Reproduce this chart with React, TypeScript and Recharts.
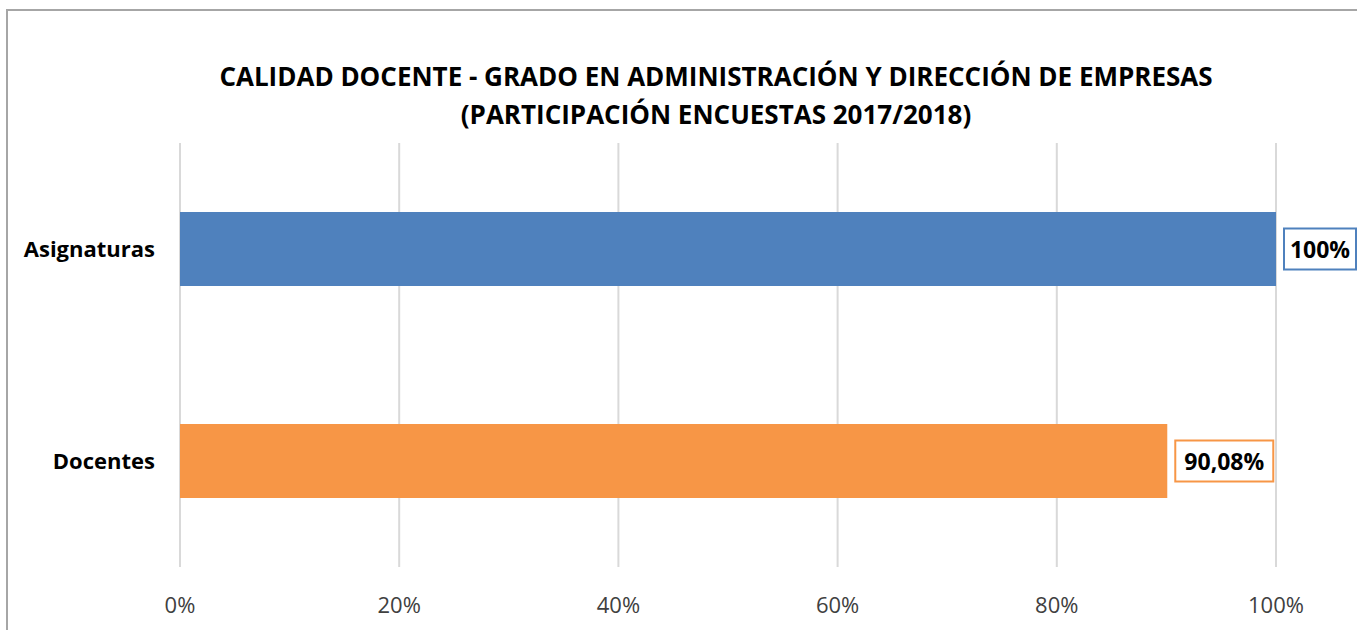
import React from 'react';
import { BarChart, Bar, XAxis, YAxis, CartesianGrid, Cell, LabelList } from 'recharts';

const categories = ['Asignaturas', 'Docentes'];
const participation = [1, 0.9008];
const valueLabels = ['100%', '90,08%'];
const barColors = ['#4F81BD', '#F79646'];
const xTicks = [0, 0.2, 0.4, 0.6, 0.8, 1];

const data = categories.map((name, i) => ({ name, value: participation[i], label: valueLabels[i] }));

const FONT = '"Open Sans", sans-serif';

const BoxLabel = (props: any) => {
  const { x, y, width, height, index } = props;
  const text = valueLabels[index];
  const boxW = text.length * 13 + 20;
  const boxH = 41;
  const bx = x + width + 8;
  const cy = y + height / 2;
  return (
    <g>
      <rect x={bx} y={cy - boxH / 2} width={boxW} height={boxH} fill="#fff" stroke={barColors[index]} strokeWidth={2} />
      <text x={bx + boxW / 2} y={cy} textAnchor="middle" dominantBaseline="central" fontFamily={FONT} fontWeight={700} fontSize={23} fill="#000">
        {text}
      </text>
    </g>
  );
};

const App: React.FC = () => {
  return (
    <div style={{ position: 'absolute', left: 0, top: 0, width: 1357, height: 630, background: '#fff', overflow: 'hidden', fontFamily: FONT }}>
      <div style={{ position: 'absolute', left: 6, top: 9, width: 1400, height: 700, border: '2px solid #a6a6a6' }} />
      <div style={{ position: 'absolute', left: 0, top: 57, width: 1432, textAlign: 'center', fontWeight: 700, fontSize: 26, lineHeight: '38px', color: '#000' }}>
        CALIDAD DOCENTE - GRADO EN ADMINISTRACIÓN Y DIRECCIÓN DE EMPRESAS
        <br />
        (PARTICIPACIÓN ENCUESTAS 2017/2018)
      </div>
      <div style={{ position: 'absolute', left: 0, top: 0 }}>
        <BarChart
          width={1357}
          height={630}
          data={data}
          layout="vertical"
          margin={{ top: 143, right: 81, bottom: 3, left: 10 }}
          barCategoryGap={0}
        >
          <CartesianGrid horizontal={false} stroke="#d9d9d9" strokeWidth={2} />
          <XAxis
            type="number"
            domain={[0, 1]}
            ticks={xTicks}
            height={60}
            tickFormatter={(v: number) => `${Math.round(v * 100)}%`}
            axisLine={false}
            tickLine={false}
            tickMargin={24}
            tick={{ fill: '#404040', fontSize: 22, fontFamily: FONT }}
          />
          <YAxis
            type="category"
            dataKey="name"
            width={170}
            axisLine={false}
            tickLine={false}
            tickMargin={19}
            tick={{ fill: '#000', fontSize: 22, fontWeight: 700, fontFamily: FONT }}
          />
          <Bar dataKey="value" barSize={74} isAnimationActive={false}>
            {data.map((d, i) => (
              <Cell key={d.name} fill={barColors[i]} />
            ))}
            <LabelList dataKey="label" content={BoxLabel} />
          </Bar>
        </BarChart>
      </div>
    </div>
  );
};

export default App;
